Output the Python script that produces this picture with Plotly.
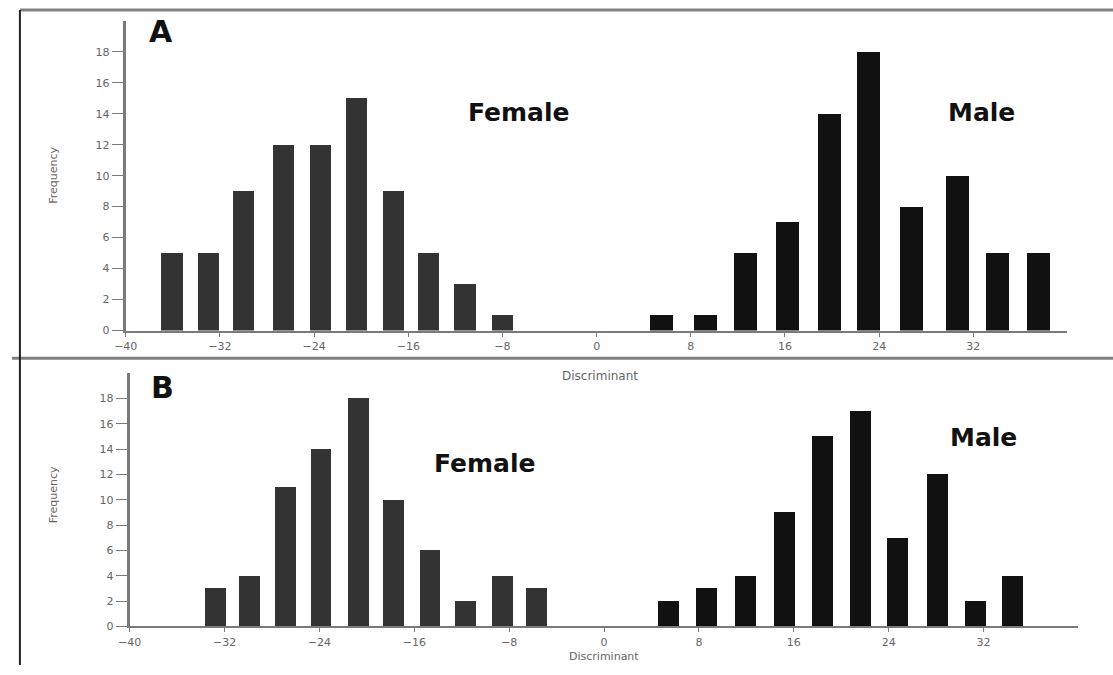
import plotly.graph_objects as go

# ---- data ----
a_female_x = [-36.1, -33.0, -30.0, -26.6, -23.5, -20.4, -17.3, -14.3, -11.2, -8.0]
a_female_y = [5, 5, 9, 12, 12, 15, 9, 5, 3, 1]
a_male_x = [5.5, 9.2, 12.6, 16.2, 19.8, 23.1, 26.7, 30.6, 34.0, 37.5]
a_male_y = [1, 1, 5, 7, 14, 18, 8, 10, 5, 5]

b_female_x = [-32.8, -29.9, -26.9, -23.9, -20.7, -17.8, -14.7, -11.7, -8.6, -5.7]
b_female_y = [3, 4, 11, 14, 18, 10, 6, 2, 4, 3]
b_male_x = [5.4, 8.6, 11.9, 15.2, 18.4, 21.6, 24.7, 28.1, 31.3, 34.4]
b_male_y = [2, 3, 4, 9, 15, 17, 7, 12, 2, 4]

x_ticks = [-40, -32, -24, -16, -8, 0, 8, 16, 24, 32]
y_ticks = [0, 2, 4, 6, 8, 10, 12, 14, 16, 18]

FEM_COL = "#333333"
MALE_COL = "#111111"
AX_COL = "#7a7a7a"
TXT_COL = "#666666"

fig = go.Figure()
fig.add_bar(x=a_female_x, y=a_female_y, width=1.8, marker=dict(color=FEM_COL, line=dict(width=0)),
            xaxis="x", yaxis="y", showlegend=False)
fig.add_bar(x=a_male_x, y=a_male_y, width=1.95, marker=dict(color=MALE_COL, line=dict(width=0)),
            xaxis="x", yaxis="y", showlegend=False)
fig.add_bar(x=b_female_x, y=b_female_y, width=1.75, marker=dict(color=FEM_COL, line=dict(width=0)),
            xaxis="x2", yaxis="y2", showlegend=False)
fig.add_bar(x=b_male_x, y=b_male_y, width=1.8, marker=dict(color=MALE_COL, line=dict(width=0)),
            xaxis="x2", yaxis="y2", showlegend=False)

W, H = 1113, 675

def xdom(l, r):
    return [l / W, r / W]

def ydom(bottom_px, top_px):
    return [(H - bottom_px) / H, (H - top_px) / H]

xcommon = dict(range=[-40, 40], tickvals=x_ticks, showgrid=False, zeroline=False,
               showline=True, linecolor=AX_COL, linewidth=2, ticks="outside", ticklen=4,
               tickcolor=AX_COL, tickfont=dict(family="DejaVu Sans", size=11, color=TXT_COL),
               fixedrange=True)
ycommon = dict(range=[0, 20], tickvals=y_ticks, showgrid=False, zeroline=False,
               showline=True, linecolor=AX_COL, linewidth=3, ticks="outside", ticklen=11,
               tickcolor=AX_COL, tickfont=dict(family="DejaVu Sans", size=11, color=TXT_COL),
               fixedrange=True)

fig.update_layout(
    width=W, height=H,
    margin=dict(l=0, r=0, t=0, b=0),
    paper_bgcolor="white", plot_bgcolor="white",
    bargap=0,
    xaxis=dict(domain=xdom(115, 1067), anchor="y", **xcommon),
    yaxis=dict(domain=ydom(334, 21), anchor="x", **ycommon),
    xaxis2=dict(domain=xdom(119, 1078), anchor="y2", **xcommon),
    yaxis2=dict(domain=ydom(633, 377), anchor="x2", **ycommon),
)

big = dict(family="DejaVu Sans", size=25, color="#111111")
ann = [
    dict(text="<b>A</b>", x=-37.0, y=19.3, xref="x", yref="y", font=dict(family="DejaVu Sans", size=30, color="#111111")),
    dict(text="<b>B</b>", x=-37.2, y=18.9, xref="x2", yref="y2", font=dict(family="DejaVu Sans", size=30, color="#111111")),
    dict(text="<b>Female</b>", x=-6.6, y=14.1, xref="x", yref="y", font=big),
    dict(text="<b>Male</b>", x=32.7, y=14.1, xref="x", yref="y", font=big),
    dict(text="<b>Female</b>", x=-10.1, y=12.9, xref="x2", yref="y2", font=big),
    dict(text="<b>Male</b>", x=32.0, y=14.9, xref="x2", yref="y2", font=big),
    dict(text="Frequency", x=42 / W, y=(H - 177) / H, xref="paper", yref="paper", textangle=-90,
         font=dict(family="DejaVu Sans", size=11, color=TXT_COL)),
    dict(text="Frequency", x=42 / W, y=(H - 500) / H, xref="paper", yref="paper", textangle=-90,
         font=dict(family="DejaVu Sans", size=11, color=TXT_COL)),
    dict(text="Discriminant", x=594 / W, y=(H - 380) / H, xref="paper", yref="paper",
         font=dict(family="DejaVu Sans", size=12, color=TXT_COL)),
    dict(text="Discriminant", x=598 / W, y=(H - 663) / H, xref="paper", yref="paper",
         font=dict(family="DejaVu Sans", size=11, color=TXT_COL), borderpad=0),
]
for a in ann:
    a.setdefault("showarrow", False)
    a.setdefault("xanchor", "center")
    a.setdefault("yanchor", "middle")
fig.update_layout(annotations=ann)

# frame lines of the scanned figure
shapes = [
    dict(type="line", xref="paper", yref="paper", x0=8 / W, x1=1, y0=(H - 10) / H, y1=(H - 10) / H,
         line=dict(color="#808080", width=3)),
    dict(type="line", xref="paper", yref="paper", x0=0, x1=1, y0=(H - 362) / H, y1=(H - 362) / H,
         line=dict(color="#808080", width=3)),
    dict(type="line", xref="paper", yref="paper", x0=8 / W, x1=8 / W, y0=(H - 10) / H, y1=(H - 672) / H,
         line=dict(color="#222222", width=2)),
]
fig.update_layout(shapes=shapes)

fig.write_html("out.html", config={"displayModeBar": False},
               post_script="document.body.style.margin='0';document.body.style.overflow='hidden';")
